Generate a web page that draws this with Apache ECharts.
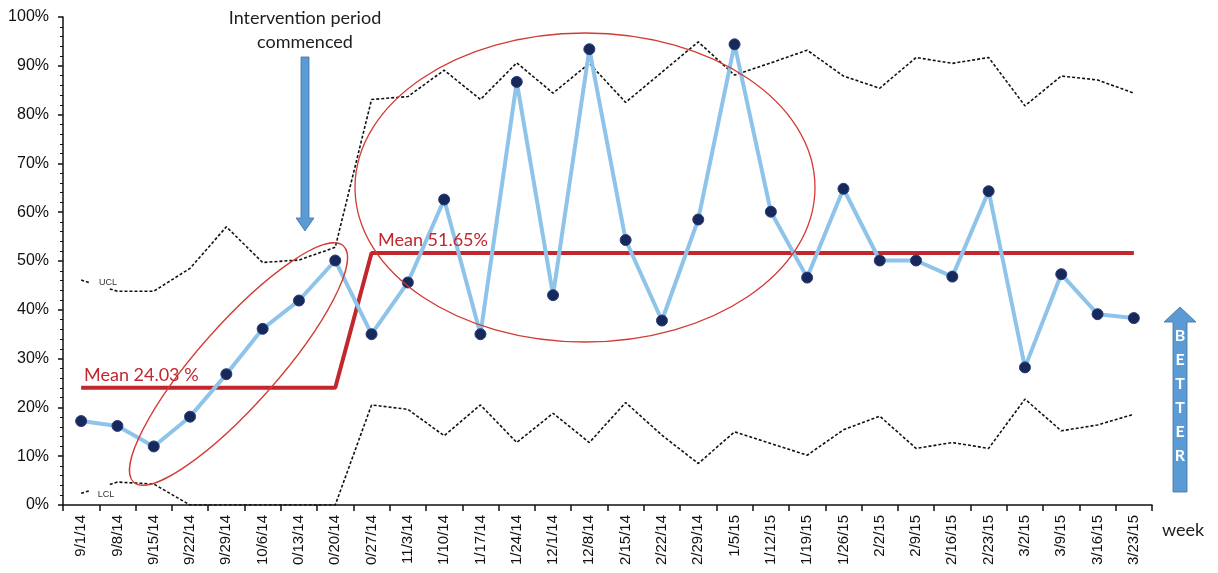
<!DOCTYPE html>
<html>
<head>
<meta charset="utf-8">
<script src="https://cdn.jsdelivr.net/npm/echarts@6/dist/echarts.min.js"></script>
<style>
html,body{margin:0;padding:0;background:#fff;}
#chart{width:1218px;height:573px;}
</style>
</head>
<body>
<div id="chart"></div>
<script>
// Week categories (as printed on the axis)
const weeks = ["9/1/14","9/8/14","9/15/14","9/22/14","9/29/14","10/6/14","0/13/14","0/20/14","0/27/14","11/3/14",
  "1/10/14","1/17/14","1/24/14","12/1/14","12/8/14","2/15/14","2/22/14","2/29/14","1/5/15","1/12/15",
  "1/19/15","1/26/15","2/2/15","2/9/15","2/16/15","2/23/15","3/2/15","3/9/15","3/16/15","3/23/15"];
// Weekly percentage
const rate = [17.2,16.2,12.0,18.1,26.8,36.1,41.9,50.1,35.0,45.6,
  62.6,35.0,86.7,43.0,93.4,54.3,37.8,58.5,94.4,60.1,
  46.6,64.8,50.1,50.1,46.8,64.3,28.2,47.3,39.1,38.3];
// Upper control limit
const ucl = [46.1,43.8,43.8,48.5,57.0,49.7,50.2,52.8,83.1,83.7,
  89.1,83.1,90.6,84.4,90.5,82.5,88.7,94.9,88.1,90.6,
  93.2,87.9,85.4,91.7,90.5,91.7,81.8,87.9,87.1,84.4];
// Lower control limit
const lcl = [2.4,4.7,4.3,0,0,0,0,0,20.5,19.6,
  14.2,20.5,12.8,18.8,12.8,21.0,14.3,8.5,15.0,12.6,
  10.2,15.4,18.2,11.6,12.8,11.6,21.7,15.2,16.4,18.6];
// Period means
const meanPre = 24.03, meanPost = 51.65, preWeeks = 8;
const meanLine = weeks.map((w, i) => i < preWeeks ? meanPre : meanPost);
const yTicks = [0,10,20,30,40,50,60,70,80,90,100];

const chart = echarts.init(document.getElementById('chart'));
const RED = '#c1272d';
const option = {
  animation: false,
  grid: {left: 63, right: 66, top: 17, bottom: 68},
  xAxis: {
    type: 'category', data: weeks, boundaryGap: true,
    axisLine: {lineStyle: {color: '#111', width: 1.5}},
    axisTick: {show: true, length: 6, lineStyle: {color: '#111', width: 1.5}},
    axisLabel: {rotate: 90, interval: 0, fontSize: 15, color: '#111', fontFamily: 'Liberation Sans', margin: 10}
  },
  yAxis: {
    type: 'value', min: 0, max: 100, interval: 10,
    axisLine: {show: true, lineStyle: {color: '#111', width: 1.5}},
    axisTick: {show: true, length: 5, lineStyle: {color: '#111', width: 1.5}},
    minorTick: {show: true, splitNumber: 5, length: 3, lineStyle: {color: '#111'}},
    splitLine: {show: false},
    axisLabel: {formatter: v => yTicks.includes(v) ? v + '%' : '', fontSize: 16, color: '#111', fontFamily: 'Liberation Sans', margin: 14}
  },
  series: [
    {name: 'UCL', type: 'line', data: ucl, symbol: 'none', z: 2,
      lineStyle: {color: '#111', width: 1.6, type: [3, 2]}},
    {name: 'LCL', type: 'line', data: lcl, symbol: 'none', z: 2,
      lineStyle: {color: '#111', width: 1.6, type: [3, 2]}},
    {name: 'Mean', type: 'line', data: meanLine, symbol: 'none', z: 3,
      lineStyle: {color: RED, width: 4}},
    {name: 'Rate', type: 'line', data: rate, z: 4,
      symbol: 'circle', symbolSize: 11,
      itemStyle: {color: '#17295a', borderColor: '#2a3a7a', borderWidth: 1},
      lineStyle: {color: '#8fc4ea', width: 4}}
  ]
};
chart.setOption(option);

const ptxt = (text, x, y, extra) => Object.assign({type: 'text', x, y, z: 20,
  style: Object.assign({text, fill: '#1e1e1e', font: '18px Lato', align: 'center', verticalAlign: 'middle'}, extra || {})});

const betterLetters = 'BETTER'.split('').map((ch, i) => ptxt(ch, 1180, 336 + i * 24, {fill: '#fff', font: 'bold 16px Lato'}));

chart.setOption({graphic: [
  // ellipses
  {type: 'ellipse', x: 238.5, y: 364, rotation: 0.846, z: 15, shape: {cx: 0, cy: 0, rx: 158, ry: 40},
    style: {fill: 'none', stroke: '#d23b33', lineWidth: 1.3}},
  {type: 'ellipse', x: 585, y: 187.5, z: 15, shape: {cx: 0, cy: 0, rx: 230, ry: 154.5},
    style: {fill: 'none', stroke: '#d23b33', lineWidth: 1.3}},
  // intervention arrow
  {type: 'polygon', z: 15, shape: {points: [[301, 57], [309, 57], [309, 218], [314, 218], [305, 231], [296, 218], [301, 218]]},
    style: {fill: '#5b9bd5', stroke: '#41719c', lineWidth: 0.8}},
  ptxt('Intervention period', 305, 18),
  ptxt('commenced', 305, 42),
  // means labels
  ptxt('Mean 24.03 %', 84, 375, {fill: RED, align: 'left'}),
  ptxt('Mean 51.65%', 378, 240, {fill: RED, align: 'left'}),
  // UCL / LCL labels
  {type: 'rect', z: 12, shape: {x: 90, y: 279, width: 18, height: 18}, style: {fill: '#fff'}},
  {type: 'rect', z: 12, shape: {x: 90, y: 483, width: 18, height: 20}, style: {fill: '#fff'}},
  ptxt('UCL', 108, 283, {font: '9px Liberation Sans', fill: '#333'}),
  ptxt('LCL', 106, 495, {font: '9px Liberation Sans', fill: '#333'}),
  // better arrow
  {type: 'polygon', z: 15, shape: {points: [[1173, 492], [1173, 322], [1164, 322], [1180, 307], [1196, 322], [1187, 322], [1187, 492]]},
    style: {fill: '#5b9bd5', stroke: '#41719c', lineWidth: 0.8}},
  ...betterLetters,
  ptxt('week', 1183, 530)
]});
</script>
</body>
</html>
